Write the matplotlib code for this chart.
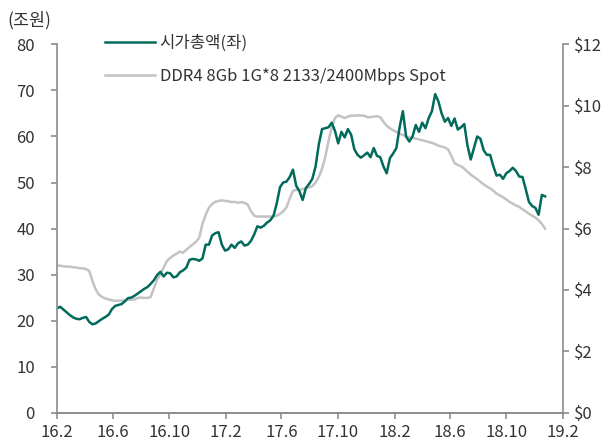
import pandas as pd
import matplotlib
matplotlib.use('Agg')
import matplotlib.pyplot as plt

plt.rcParams['font.family'] = ['Noto Sans CJK KR', 'DejaVu Sans']

# weekly samples, starting 2016-02-01
start = '2016-02-01'

# market cap (조원, left axis)
mcap = [22.7, 23.0, 22.4, 21.8, 21.2, 20.7, 20.4, 20.3, 20.6, 20.8,
        19.7, 19.2, 19.4, 19.9, 20.4, 20.8, 21.3, 22.5, 23.2, 23.4,
        23.6, 24.2, 24.9, 25.0, 25.4, 25.9, 26.4, 26.9, 27.3, 28.0,
        28.8, 29.9, 30.6, 29.6, 30.4, 30.3, 29.4, 29.6, 30.5, 30.9,
        31.5, 33.2, 33.4, 33.3, 33.0, 33.5, 36.5, 36.5, 38.5, 39.0,
        39.2, 36.5, 35.2, 35.5, 36.5, 35.8, 36.8, 37.2, 36.3, 36.5,
        37.3, 38.7, 40.5, 40.2, 40.6, 41.3, 41.8, 42.8, 45.5, 49.0,
        50.0, 50.2, 51.2, 52.8, 49.3, 48.1, 46.2, 48.8, 49.7, 50.8,
        53.5, 58.3, 61.6, 61.8, 62.0, 63.0, 61.2, 58.5, 61.0, 59.8,
        61.6, 60.4, 57.2, 56.0, 55.4, 55.9, 56.5, 55.5, 57.5, 55.8,
        55.5, 53.5, 52.0, 55.3, 56.3, 57.5, 62.0, 65.5, 60.0, 58.9,
        60.0, 62.5, 61.0, 63.0, 61.8, 64.0, 65.5, 69.2, 67.6, 65.0,
        63.2, 64.0, 62.3, 63.9, 61.5, 62.0, 62.7, 58.0, 55.0, 57.5,
        60.0, 59.5, 57.0, 56.0, 56.0, 53.5, 51.5, 51.7, 50.8, 52.0,
        52.5, 53.2, 52.5, 51.3, 51.2, 48.6, 45.8, 44.9, 44.5, 43.0,
        47.3, 47.0]

# DDR4 spot price ($, right axis)
ddr4 = [4.79, 4.79, 4.77, 4.76, 4.76, 4.74, 4.73, 4.71, 4.70, 4.68,
        4.62, 4.28, 4.01, 3.84, 3.77, 3.72, 3.69, 3.66, 3.65, 3.65,
        3.65, 3.66, 3.68, 3.68, 3.69, 3.74, 3.75, 3.74, 3.74, 3.77,
        4.05, 4.34, 4.50, 4.73, 4.94, 5.04, 5.12, 5.18, 5.25, 5.21,
        5.31, 5.40, 5.48, 5.57, 5.70, 6.15, 6.45, 6.68, 6.80, 6.87,
        6.90, 6.92, 6.90, 6.89, 6.86, 6.87, 6.84, 6.86, 6.84, 6.78,
        6.57, 6.42, 6.39, 6.39, 6.39, 6.39, 6.39, 6.41, 6.42, 6.48,
        6.56, 6.69, 6.98, 7.23, 7.26, 7.26, 7.29, 7.31, 7.34, 7.38,
        7.50, 7.68, 7.95, 8.33, 8.85, 9.30, 9.60, 9.69, 9.65, 9.60,
        9.65, 9.68, 9.68, 9.69, 9.68, 9.68, 9.63, 9.63, 9.65, 9.66,
        9.63, 9.48, 9.35, 9.27, 9.20, 9.15, 9.09, 9.05, 9.00, 8.97,
        8.96, 8.93, 8.90, 8.88, 8.85, 8.82, 8.79, 8.75, 8.70, 8.67,
        8.64, 8.58, 8.37, 8.13, 8.07, 8.03, 7.95, 7.85, 7.76, 7.68,
        7.61, 7.52, 7.44, 7.37, 7.31, 7.23, 7.14, 7.08, 7.02, 6.95,
        6.87, 6.81, 6.75, 6.71, 6.63, 6.56, 6.48, 6.42, 6.36, 6.27,
        6.15, 6.00]

tick_dates = ['2016-02-01', '2016-06-01', '2016-10-01', '2017-02-01', '2017-06-01',
              '2017-10-01', '2018-02-01', '2018-06-01', '2018-10-01', '2019-02-01']
tick_labels = ['16.2', '16.6', '16.10', '17.2', '17.6',
               '17.10', '18.2', '18.6', '18.10', '19.2']

dates = pd.date_range(start, periods=len(mcap), freq='7D')

green = '#006B5B'
grey = '#C3C3C3'
axis_col = '#8C8C8C'
text_col = '#333333'

fig = plt.figure(figsize=(6.1, 4.44), dpi=100)
ax = fig.add_axes([0.0934, 0.0705, 0.8297, 0.8295])
ax2 = ax.twinx()

l2, = ax2.plot(dates, ddr4, color=grey, lw=1.8, label='DDR4 8Gb 1G*8 2133/2400Mbps Spot')
l1, = ax.plot(dates, mcap, color=green, lw=1.8, label='시가총액(좌)')
ax.set_zorder(ax2.get_zorder() + 1)
ax.patch.set_visible(False)

ax.set_xlim(pd.Timestamp('2016-02-01'), pd.Timestamp('2019-02-01'))
ax.set_ylim(0, 80)
ax2.set_ylim(0, 12)
ax.set_yticks(range(0, 81, 10))
ax2.set_yticks(range(0, 13, 2))
ax2.set_yticklabels(['$%d' % v for v in range(0, 13, 2)])
ax.set_xticks(pd.to_datetime(tick_dates))
ax.set_xticklabels(tick_labels)

for a in (ax, ax2):
    a.spines['top'].set_visible(False)
    for s in ('left', 'right', 'bottom'):
        a.spines[s].set_color(axis_col)
        a.spines[s].set_linewidth(1.2)
    a.tick_params(colors=axis_col, labelcolor=text_col, labelsize=12, length=4, width=1.2)
ax.spines['right'].set_visible(False)
ax2.spines['left'].set_visible(False)
ax.tick_params(axis='y', pad=12)
ax.tick_params(axis='x', pad=4)
ax2.tick_params(axis='y', pad=4)

fig.text(0.012, 0.955, '(조원)', fontsize=12.5, color=text_col, va='center')

fig.legend(handles=[l1, l2], loc='upper left', bbox_to_anchor=(0.158, 0.94),
           frameon=False, fontsize=12, handlelength=3.0, handletextpad=0.3,
           labelspacing=0.95, borderpad=0, labelcolor=text_col)

fig.savefig('out.png', dpi=100)
